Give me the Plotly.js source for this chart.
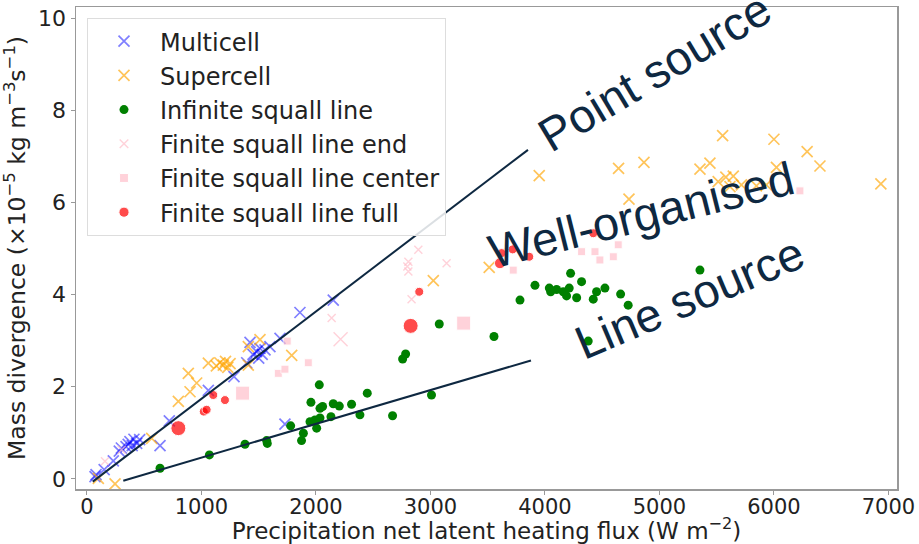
<!DOCTYPE html>
<html>
<head>
<meta charset="utf-8">
<script src="https://cdn.plot.ly/plotly-3.0.1.min.js"></script>
<style>html,body{margin:0;padding:0;background:#fff;}#chart{width:919px;height:544px;}</style>
</head>
<body>
<div id="chart"></div>
<script>
// ---- Data ----
const multicellX = [70, 79, 150, 230, 282, 300, 341, 360, 375, 395, 410, 434, 460, 638, 719, 1060, 1284, 1395, 1424, 1450, 1482, 1500, 1511, 1530, 1555, 1598, 1686, 1729, 1860, 2151];
const multicellY = [0.05, 0.09, 0.20, 0.39, 0.60, 0.67, 0.70, 0.75, 0.81, 0.72, 0.86, 0.77, 0.85, 0.72, 1.26, 1.92, 2.22, 2.52, 2.96, 2.70, 2.76, 2.62, 2.83, 2.70, 2.80, 2.87, 3.05, 1.19, 3.61, 3.88];

const supercellX = [99, 245, 565, 798, 885, 900, 958, 1060, 1130, 1160, 1190, 1210, 1230, 1250, 1409, 1409, 1511, 1788, 3025, 3513, 3950, 4643, 4734, 4865, 5354, 5441, 5513, 5552, 5580, 5616, 5645, 5716, 5847, 5934, 6000, 6022, 6290, 6402, 6934];
const supercellY = [0.01, -0.11, 0.88, 1.68, 2.29, 1.89, 2.08, 2.51, 2.45, 2.52, 2.47, 2.55, 2.42, 2.50, 2.87, 2.47, 3.02, 2.68, 4.30, 4.59, 6.58, 6.74, 6.07, 6.87, 6.72, 6.85, 6.45, 7.45, 6.55, 6.34, 6.57, 6.38, 6.36, 6.38, 7.37, 6.76, 7.10, 6.79, 6.40];

const infiniteX = [638, 1069, 1380, 1569, 1575, 1779, 1874, 1890, 1948, 1956, 1991, 2006, 2029, 2035, 2035, 2058, 2131, 2151, 2204, 2311, 2384, 2448, 2669, 2757, 2783, 3009, 3077, 3555, 3782, 3913, 4038, 4050, 4102, 4160, 4189, 4212, 4224, 4277, 4320, 4378, 4422, 4451, 4524, 4661, 4727, 5354];
const infiniteY = [0.23, 0.52, 0.75, 0.83, 0.77, 1.15, 0.83, 0.99, 1.24, 1.66, 1.28, 1.10, 2.04, 1.53, 1.32, 1.57, 1.35, 1.63, 1.58, 1.62, 1.39, 1.86, 1.37, 2.60, 2.71, 1.82, 3.36, 3.09, 3.88, 4.20, 4.14, 4.06, 4.11, 4.06, 3.97, 4.14, 4.46, 3.93, 4.28, 2.99, 3.90, 4.06, 4.14, 4.01, 3.77, 4.53];

const finiteEndX = [157, 303, 2137, 2215, 2798, 2807, 2807, 2835, 2894, 3141];
const finiteEndY = [0.38, 0.63, 3.49, 3.03, 4.61, 4.71, 4.50, 3.90, 4.97, 4.68];

const finiteCenterX = [1359, 1671, 1729, 1749, 1933, 3290, 3723, 4320, 4437, 4480, 4597, 4640, 6227];
const finiteCenterY = [1.86, 2.29, 2.38, 2.99, 2.52, 3.38, 4.53, 4.93, 4.93, 4.75, 4.82, 5.08, 6.25];

const finiteFullX = [798, 1020, 1045, 1103, 1205, 2827, 2902, 3607, 3621, 3718, 3863, 4422];
const finiteFullY = [1.10, 1.46, 1.50, 1.82, 1.71, 3.32, 4.06, 4.68, 4.90, 4.98, 4.82, 5.33];

// Reference lines (end points)
const pointLineX = [50, 3852];
const pointLineY = [-0.06, 7.14];
const lineLineX = [317, 3878];
const lineLineY = [-0.04, 2.57];

const seriesNames = ["Multicell", "Supercell", "Infinite squall line", "Finite squall line end", "Finite squall line center", "Finite squall line full"];
const xTicks = [0, 1000, 2000, 3000, 4000, 5000, 6000, 7000];
const yTicks = [0, 2, 4, 6, 8, 10];

// ---- Styling ----
const endSizes = [8, 8, 8, 14, 8, 8, 8, 8, 8, 8];
const centerSizes = [14, 8, 8, 8, 8, 14, 8, 8, 8, 8, 8, 8, 8];
const fullSizes = [15, 9, 9, 9, 9, 15, 9, 11, 9, 9, 9, 9];
const navy = "#0e2841";
const FONT = "DejaVu Sans, Verdana, sans-serif";

const traces = [
  {x: multicellX, y: multicellY, name: seriesNames[0], mode: "markers", type: "scatter",
   marker: {symbol: "x-thin", size: 11, line: {width: 1.7, color: "rgba(0,0,255,0.5)"}}},
  {x: supercellX, y: supercellY, name: seriesNames[1], mode: "markers", type: "scatter",
   marker: {symbol: "x-thin", size: 11, line: {width: 1.7, color: "rgba(255,165,0,0.65)"}}},
  {x: infiniteX, y: infiniteY, name: seriesNames[2], mode: "markers", type: "scatter",
   marker: {symbol: "circle", size: 9, color: "#008000"}},
  {x: finiteEndX, y: finiteEndY, name: seriesNames[3], mode: "markers", type: "scatter",
   marker: {symbol: "x-thin", size: endSizes, line: {width: 1.4, color: "#ffc0cb"}}},
  {x: finiteCenterX, y: finiteCenterY, name: seriesNames[4], mode: "markers", type: "scatter",
   marker: {symbol: "square", size: centerSizes, color: "#ffc0cb"}},
  {x: finiteFullX, y: finiteFullY, name: seriesNames[5], mode: "markers", type: "scatter",
   marker: {symbol: "circle", size: fullSizes, color: "#ff0000"}},
  {x: pointLineX, y: pointLineY, mode: "lines", type: "scatter", showlegend: false, hoverinfo: "skip",
   line: {color: navy, width: 2}},
  {x: lineLineX, y: lineLineY, mode: "lines", type: "scatter", showlegend: false, hoverinfo: "skip",
   line: {color: navy, width: 2}}
];

const annFont = {family: "Liberation Sans, Arial, sans-serif", size: 47, color: navy};

const layout = {
  width: 919, height: 544,
  margin: {l: 76, r: 22, t: 7, b: 55},
  paper_bgcolor: "#fff", plot_bgcolor: "#fff",
  font: {family: FONT, size: 22, color: "#222"},
  showlegend: true,
  legend: {x: 0.0134, y: 0.977, xanchor: "left", yanchor: "top",
    bgcolor: "rgba(255,255,255,0.85)", bordercolor: "#dddddd", borderwidth: 1,
    font: {family: FONT, size: 24, color: "#222"}, itemwidth: 62},
  xaxis: {range: [-96, 7075], tickvals: xTicks, ticktext: xTicks.map(String),
    showgrid: false, zeroline: false, showline: true, mirror: true, linecolor: "#999", linewidth: 1.5,
    ticks: "outside", ticklen: 4, tickcolor: "#999", ticklabelstandoff: -6,
    tickfont: {family: FONT, size: 21, color: "#222"},
    title: {text: "Precipitation net latent heating flux (W m<sup>−2</sup>)", font: {family: FONT, size: 23, color: "#222"}, standoff: 1}},
  yaxis: {range: [-0.22, 10.24], tickvals: yTicks, ticktext: yTicks.map(String),
    showgrid: false, zeroline: false, showline: true, mirror: true, linecolor: "#999", linewidth: 1.5,
    ticks: "outside", ticklen: 4, tickcolor: "#999", tickfont: {family: FONT, size: 22, color: "#222"},
    title: {text: "Mass divergence (×10<sup>−5</sup> kg m<sup>−3</sup>s<sup>−1</sup>)", font: {family: FONT, size: 23.5, color: "#222"}, standoff: 6}},
  annotations: [
    {x: 4961, y: 8.83, xref: "x", yref: "y", text: "Point source", showarrow: false, textangle: -31, font: annFont},
    {x: 4847, y: 5.73, xref: "x", yref: "y", text: "Well-organised", showarrow: false, textangle: -14, font: annFont},
    {x: 5266, y: 3.93, xref: "x", yref: "y", text: "Line source", showarrow: false, textangle: -23, font: annFont}
  ]
};

Plotly.newPlot("chart", traces, layout, {displayModeBar: false, staticPlot: true});
</script>
</body>
</html>
